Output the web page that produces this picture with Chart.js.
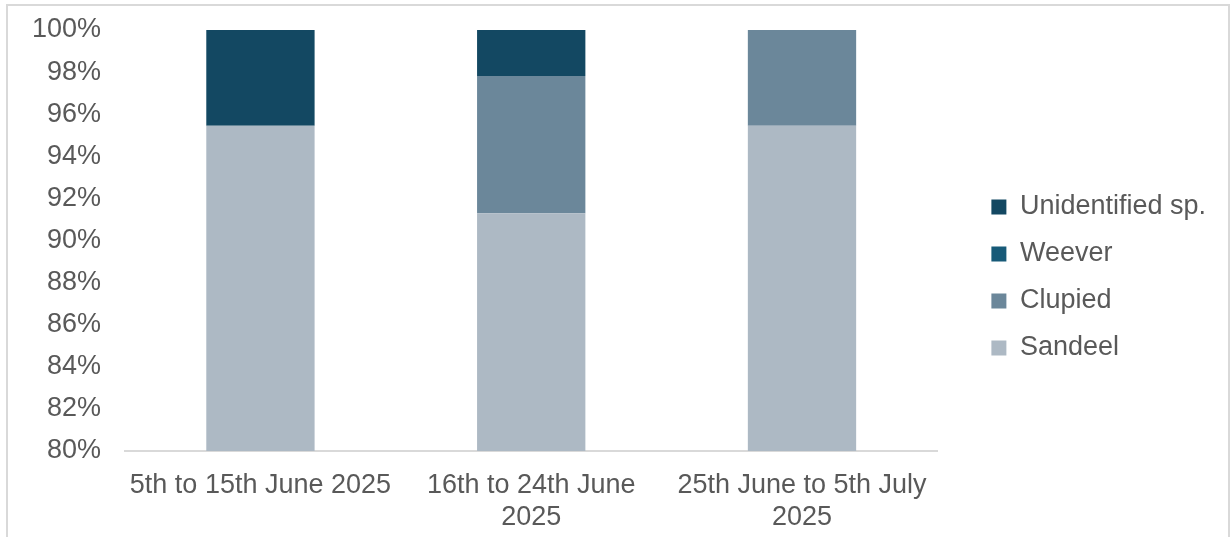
<!DOCTYPE html>
<html>
<head>
<meta charset="utf-8">
<script src="https://cdn.jsdelivr.net/npm/chart.js@4"></script>
<style>
  html, body { margin: 0; padding: 0; background: #fff; }
  #wrap { position: relative; width: 1231px; height: 537px; overflow: hidden; }
  #frame {
    position: absolute; left: 6px; top: 4px; width: 1220px; height: 560px;
    border: 2px solid #d9d9d9; pointer-events: none;
  }
  canvas { position: absolute; left: 0; top: 0; }
</style>
</head>
<body>
<div id="wrap">
  <div id="frame"></div>
  <canvas id="dietChart" width="1231" height="537"></canvas>
</div>
<script>
// sampling periods
const periods = [
  '5th to 15th June 2025',
  ['16th to 24th June', '2025'],
  ['25th June to 5th July', '2025']
];

// share of prey items per period (%)
const sandeel = [95.45, 91.30, 95.45];
const clupied = [0, 6.52, 4.55];
const weever = [0, 0, 0];
const unidentified = [4.55, 2.18, 0];

const yTicks = [80, 82, 84, 86, 88, 90, 92, 94, 96, 98, 100];

const textColor = '#595959';
const fontFamily = '"Liberation Sans", Arial, sans-serif';

const ctx = document.getElementById('dietChart').getContext('2d');

new Chart(ctx, {
  type: 'bar',
  data: {
    labels: periods,
    datasets: [
      { label: 'Sandeel', data: sandeel, backgroundColor: '#adb9c4' },
      { label: 'Clupied', data: clupied, backgroundColor: '#6b879a' },
      { label: 'Weever', data: weever, backgroundColor: '#175a78' },
      { label: 'Unidentified sp.', data: unidentified, backgroundColor: '#134862' }
    ]
  },
  options: {
    responsive: false,
    animation: false,
    categoryPercentage: 1,
    barPercentage: 0.4,
    layout: {
      padding: { left: 8, top: 30, right: 15, bottom: 12 }
    },
    plugins: {
      tooltip: { enabled: false },
      legend: {
        position: 'right',
        reverse: true,
        maxWidth: 400,
        labels: {
          boxWidth: 15,
          boxHeight: 15,
          padding: 20,
          color: textColor,
          font: { family: fontFamily, size: 27 }
        }
      }
    },
    scales: {
      x: {
        stacked: true,
        grid: { display: false },
        border: { color: '#d9d9d9', width: 2 },
        afterFit: (axis) => { axis.height = 74; },
        ticks: {
          color: textColor,
          padding: 11,
          maxRotation: 0,
          font: { family: fontFamily, size: 27, lineHeight: 1.18 }
        }
      },
      y: {
        stacked: true,
        min: 80,
        max: 100,
        afterBuildTicks: (axis) => {
          axis.ticks = yTicks.map(v => ({ value: v }));
        },
        afterFit: (axis) => {
          axis.paddingTop = 0;
          axis.paddingBottom = 0;
        },
        grid: { display: false, drawTicks: false },
        border: { display: false },
        ticks: {
          color: textColor,
          padding: 24,
          font: { family: fontFamily, size: 27 },
          callback: (v) => v + '%'
        }
      },
      // empty axis that keeps the legend clear of the plot
      spacer: {
        type: 'linear',
        position: 'right',
        display: true,
        grid: { display: false },
        border: { display: false },
        ticks: { display: false },
        afterFit: (axis) => {
          axis.width = 34;
          axis.paddingTop = 0;
          axis.paddingBottom = 0;
        }
      }
    }
  }
});
</script>
</body>
</html>
